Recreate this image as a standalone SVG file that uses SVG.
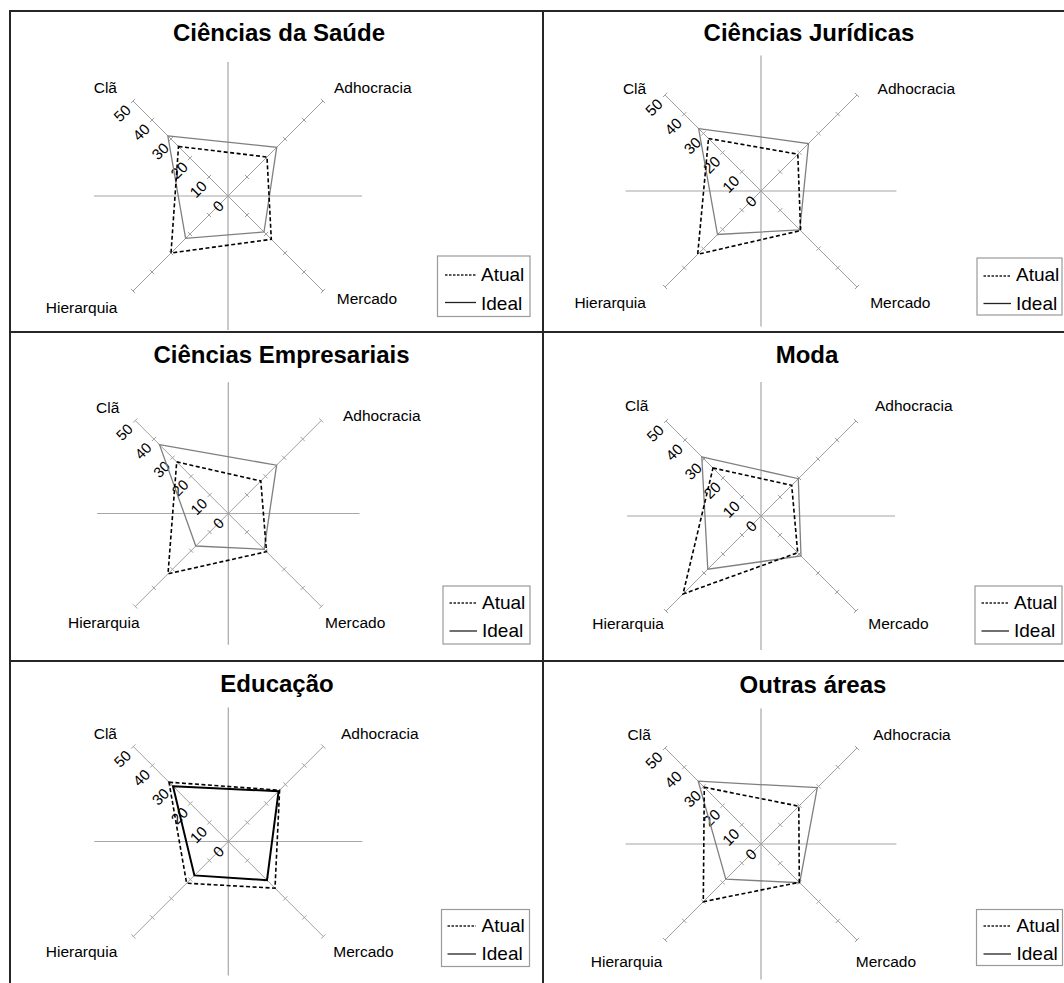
<svg xmlns="http://www.w3.org/2000/svg" xmlns:xlink="http://www.w3.org/1999/xlink" width="1064" height="983" viewBox="0 0 1064 983">
  <style>
    text { font-family: "Liberation Sans", Arial, sans-serif; fill: #000; }
    .title { font-size: 24px; font-weight: bold; text-anchor: middle; }
    .cat { font-size: 15.5px; }
    .num { font-size: 15px; text-anchor: middle; dominant-baseline: central; }
    .leg { font-size: 19px; }
    .frame { stroke: #262626; stroke-width: 2; fill: none; }
    .cross { stroke: #a6a6a6; stroke-width: 1.2; fill: none; vector-effect: non-scaling-stroke; }
    .spoke { stroke: #a0a0a0; stroke-width: 1; fill: none; vector-effect: non-scaling-stroke; }
    .ideal { stroke: #7f7f7f; stroke-width: 1.3; fill: none; stroke-linejoin: miter; }
    .ideal-dark { stroke: #000; stroke-width: 2; fill: none; }
    .atual { stroke: #000; stroke-width: 1.6; stroke-dasharray: 4 2.5; fill: none; }
    .legbox { stroke: #9a9a9a; stroke-width: 1.2; fill: #fff; }
    .legline { stroke: #222; stroke-width: 1.3; }
  </style>
  <defs>
    <!-- radar axes: crosshair, four diagonal spokes with ticks every 10 units, scale 0-50 (R = 95) -->
    <g id="radar-axes">
      <line class="cross" x1="-134" y1="0" x2="134" y2="0"/>
      <line class="cross" x1="0" y1="-134" x2="0" y2="134"/>
      <line class="spoke" x1="-95" y1="-95" x2="95" y2="95"/>
      <line class="spoke" x1="95" y1="-95" x2="-95" y2="95"/>
      <path class="spoke" d="M16.9,21.1 l4.2,-4.2 M35.9,40.1 l4.2,-4.2 M54.9,59.1 l4.2,-4.2 M73.9,78.1 l4.2,-4.2 M92.9,97.1 l4.2,-4.2
        M-21.1,-16.9 l4.2,-4.2 M-40.1,-35.9 l4.2,-4.2 M-59.1,-54.9 l4.2,-4.2 M-78.1,-73.9 l4.2,-4.2 M-97.1,-92.9 l4.2,-4.2
        M16.9,-21.1 l4.2,4.2 M35.9,-40.1 l4.2,4.2 M54.9,-59.1 l4.2,4.2 M73.9,-78.1 l4.2,4.2 M92.9,-97.1 l4.2,4.2
        M-21.1,16.9 l4.2,4.2 M-40.1,35.9 l4.2,4.2 M-59.1,54.9 l4.2,4.2 M-78.1,73.9 l4.2,4.2 M-97.1,92.9 l4.2,4.2"/>
      <text class="num" x="-10" y="10" transform="rotate(-45 -10 10)">0</text>
      <text class="num" x="-30" y="-7" transform="rotate(-45 -30 -7)">10</text>
      <text class="num" x="-49" y="-26" transform="rotate(-45 -49 -26)">20</text>
      <text class="num" x="-68" y="-45" transform="rotate(-45 -68 -45)">30</text>
      <text class="num" x="-87" y="-64" transform="rotate(-45 -87 -64)">40</text>
      <text class="num" x="-106" y="-83" transform="rotate(-45 -106 -83)">50</text>
    </g>
  </defs>

  <rect width="1064" height="983" fill="#fff"/>

  <!-- outer frame and grid dividers -->
  <g id="frame">
    <path class="frame" d="M10,983 V11 H1064"/>
    <line class="frame" x1="543" y1="11" x2="543" y2="983"/>
    <line class="frame" x1="10" y1="332" x2="1064" y2="332"/>
    <line class="frame" x1="10" y1="661" x2="1064" y2="661"/>
  </g>

  <!-- Ciências da Saúde -->
  <g id="panel-saude">
    <text class="title" x="279" y="41">Ciências da Saúde</text>
    <g transform="translate(228,196)">
      <use xlink:href="#radar-axes"/>
      <polygon class="ideal" points="-60.2,-60.2 48.7,-48.7 36,36 -42.4,42.4"/>
      <polygon class="atual" points="-49.5,-49.5 39,-39 43.3,43.3 -57,57"/>
      <text class="cat" x="-134.3" y="-103.3">Clã</text>
      <text class="cat" x="106" y="-103.3">Adhocracia</text>
      <text class="cat" x="108.8" y="107.5">Mercado</text>
      <text class="cat" x="-182.2" y="117">Hierarquia</text>
    </g>
    <g class="legend">
      <rect class="legbox" x="437.5" y="256" width="92.5" height="60.5"/>
      <line class="legline" x1="445" y1="275" x2="476" y2="275" stroke-dasharray="2.5 1.5"/>
      <line class="legline" x1="445" y1="302.5" x2="476" y2="302.5" stroke="#555"/>
      <text class="leg" x="481" y="281">Atual</text>
      <text class="leg" x="481" y="309.5">Ideal</text>
    </g>
  </g>

  <!-- Ciências Jurídicas -->
  <g id="panel-juridicas">
    <text class="title" x="809" y="41">Ciências Jurídicas</text>
    <g transform="translate(761,191)">
      <use xlink:href="#radar-axes" transform="scale(1.0105)"/>
      <polygon class="ideal" points="-62.4,-62.4 47.5,-47.5 38.8,38.8 -43.5,43.5"/>
      <polygon class="atual" points="-52.5,-52.5 36.8,-36.8 39.6,39.6 -63.3,63.3"/>
      <text class="cat" x="-138.1" y="-97">Clã</text>
      <text class="cat" x="116.6" y="-97">Adhocracia</text>
      <text class="cat" x="109.2" y="117">Mercado</text>
      <text class="cat" x="-186.6" y="117">Hierarquia</text>
    </g>
    <g class="legend">
      <rect class="legbox" x="977" y="258" width="85" height="57"/>
      <line class="legline" x1="983.5" y1="276" x2="1011" y2="276" stroke-dasharray="2.5 1.5"/>
      <line class="legline" x1="983.5" y1="303.5" x2="1011" y2="303.5"/>
      <text class="leg" x="1016" y="281">Atual</text>
      <text class="leg" x="1016" y="309.5">Ideal</text>
    </g>
  </g>

  <!-- Ciências Empresariais -->
  <g id="panel-empresariais">
    <text class="title" x="281.5" y="363">Ciências Empresariais</text>
    <g transform="translate(228.3,513.5)">
      <use xlink:href="#radar-axes" transform="scale(0.979)"/>
      <polygon class="ideal" points="-68.8,-68.8 48.3,-48.3 35.8,35.8 -32.5,32.5"/>
      <polygon class="atual" points="-51.6,-51.6 32.5,-32.5 38.2,38.2 -60.3,60.3"/>
      <text class="cat" x="-132.3" y="-101">Clã</text>
      <text class="cat" x="114.7" y="-93">Adhocracia</text>
      <text class="cat" x="96.7" y="114.5">Mercado</text>
      <text class="cat" x="-160.3" y="114.5">Hierarquia</text>
    </g>
    <g class="legend">
      <rect class="legbox" x="443" y="586" width="87" height="58"/>
      <line class="legline" x1="449.5" y1="603" x2="477" y2="603" stroke-dasharray="2.5 1.5"/>
      <line class="legline" x1="449.5" y1="631" x2="477" y2="631"/>
      <text class="leg" x="482" y="608.5">Atual</text>
      <text class="leg" x="482" y="637">Ideal</text>
    </g>
  </g>

  <!-- Moda -->
  <g id="panel-moda">
    <text class="title" x="807" y="363">Moda</text>
    <g transform="translate(761,516)">
      <use xlink:href="#radar-axes"/>
      <polygon class="ideal" points="-59.2,-59.2 37.3,-37.3 40,40 -53.2,53.2"/>
      <polygon class="atual" points="-48,-48 30.7,-30.7 36.7,36.7 -78,78"/>
      <text class="cat" x="-136" y="-105.3">Clã</text>
      <text class="cat" x="114" y="-105.5">Adhocracia</text>
      <text class="cat" x="107.3" y="113">Mercado</text>
      <text class="cat" x="-168.7" y="113">Hierarquia</text>
    </g>
    <g class="legend">
      <rect class="legbox" x="975" y="586" width="87" height="58"/>
      <line class="legline" x1="981.5" y1="603" x2="1009" y2="603" stroke-dasharray="2.5 1.5"/>
      <line class="legline" x1="981.5" y1="631" x2="1009" y2="631"/>
      <text class="leg" x="1014" y="608.5">Atual</text>
      <text class="leg" x="1014" y="637">Ideal</text>
    </g>
  </g>

  <!-- Educação -->
  <g id="panel-educacao">
    <text class="title" x="277" y="692">Educação</text>
    <g transform="translate(228.3,841.5)">
      <use xlink:href="#radar-axes"/>
      <polygon class="ideal-dark" points="-55.3,-55.3 50.3,-50.3 38.7,38.7 -33.9,33.9"/>
      <polygon class="atual" points="-59.3,-59.3 51.3,-51.3 46.7,46.7 -41.7,41.7"/>
      <text class="cat" x="-134.6" y="-102.5">Clã</text>
      <text class="cat" x="112.7" y="-102.5">Adhocracia</text>
      <text class="cat" x="105" y="115">Mercado</text>
      <text class="cat" x="-182.5" y="115">Hierarquia</text>
    </g>
    <g class="legend">
      <rect class="legbox" x="441.5" y="909.5" width="88" height="57"/>
      <line class="legline" x1="447.5" y1="926" x2="476" y2="926" stroke-dasharray="2.5 1.5"/>
      <line class="legline" x1="447.5" y1="954" x2="476" y2="954" stroke="#000" stroke-width="2"/>
      <text class="leg" x="481.5" y="931.5">Atual</text>
      <text class="leg" x="481.5" y="960">Ideal</text>
    </g>
  </g>

  <!-- Outras áreas -->
  <g id="panel-outras">
    <text class="title" x="813" y="693">Outras áreas</text>
    <g transform="translate(761,844)">
      <use xlink:href="#radar-axes" transform="scale(1.0105)"/>
      <polygon class="ideal" points="-62.8,-62.8 56.3,-56.3 38.7,38.7 -35.2,35.2"/>
      <polygon class="atual" points="-56.7,-56.7 37.8,-37.8 38.3,38.3 -57.7,57.7"/>
      <text class="cat" x="-133.4" y="-104">Clã</text>
      <text class="cat" x="112.2" y="-104">Adhocracia</text>
      <text class="cat" x="94.8" y="123.3">Mercado</text>
      <text class="cat" x="-170.2" y="123.3">Hierarquia</text>
    </g>
    <g class="legend">
      <rect class="legbox" x="976.5" y="909.5" width="86" height="56"/>
      <line class="legline" x1="983.5" y1="926" x2="1011" y2="926" stroke-dasharray="2.5 1.5"/>
      <line class="legline" x1="983.5" y1="954" x2="1011" y2="954"/>
      <text class="leg" x="1016.5" y="931.5">Atual</text>
      <text class="leg" x="1016.5" y="960">Ideal</text>
    </g>
  </g>
</svg>
